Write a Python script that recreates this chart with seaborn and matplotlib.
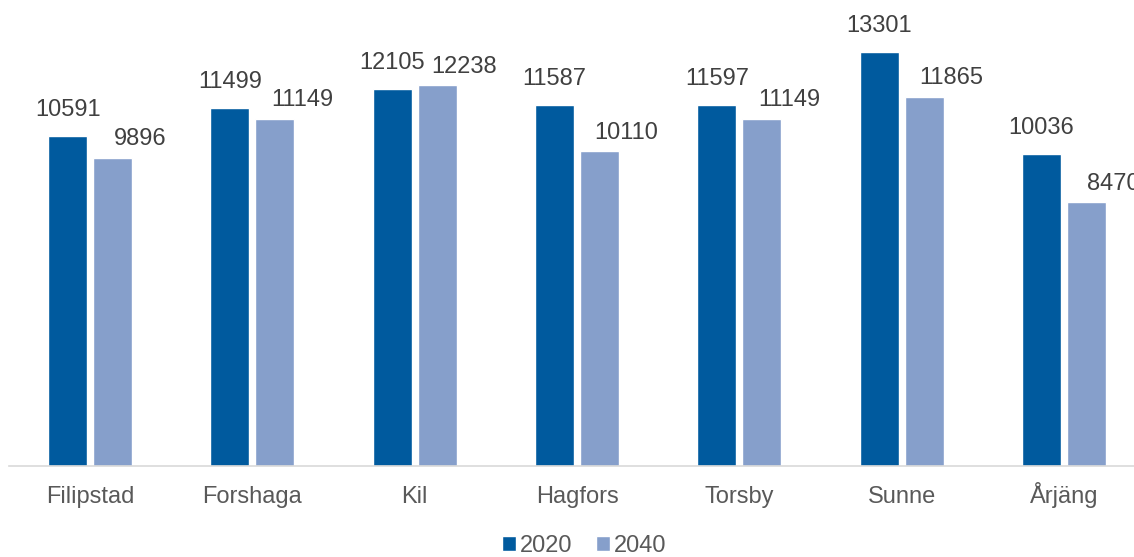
import pandas as pd
import seaborn as sns
import matplotlib.pyplot as plt

kommuner = ['Filipstad', 'Forshaga', 'Kil', 'Hagfors', 'Torsby', 'Sunne', 'Årjäng']
years = ['2020', '2040']
values_2020 = [10591, 11499, 12105, 11587, 11597, 13301, 10036]
values_2040 = [9896, 11149, 12238, 10110, 11149, 11865, 8470]
colors = ['#005A9E', '#869FCB']

df = pd.DataFrame({
    'kommun': kommuner * 2,
    'year': [years[0]] * len(kommuner) + [years[1]] * len(kommuner),
    'value': values_2020 + values_2040,
})

sns.set_style('white')
plt.rcParams['font.family'] = ['Liberation Sans', 'DejaVu Sans']

fig = plt.figure(figsize=(11.34, 5.57), dpi=100)
ax = fig.add_axes([9 / 1134, 1 - 466 / 557, 1136 / 1134, 466 / 557])

sns.barplot(data=df, x='kommun', y='value', hue='year', palette=colors,
            width=0.555, gap=0.133, saturation=1, ax=ax, legend=True)

ax.set_ylim(0, 466 * 13301 / 414)
ax.set_xlim(-0.5, len(kommuner) - 0.5)

# data labels: 2020 centred, 2040 nudged right (like the Excel original)
offsets = [(0, 14.4), (19.5, 9.0)]
for cont, (dx, dy) in zip(ax.containers, offsets):
    for bar in cont:
        x = bar.get_x() + bar.get_width() / 2
        h = bar.get_height()
        ax.annotate(f'{int(round(h))}', (x, h), xytext=(dx, dy),
                    textcoords='offset points', ha='center', va='baseline',
                    fontsize=17, color='#404040', annotation_clip=False)

ax.set_xlabel('')
ax.set_ylabel('')
ax.set_yticks([])
ax.tick_params(axis='x', length=0, pad=26.6, labelsize=17, labelcolor='#595959')
for lab in ax.get_xticklabels():
    lab.set_verticalalignment('baseline')
for side in ['top', 'right', 'left']:
    ax.spines[side].set_visible(False)
ax.spines['bottom'].set_color('#D9D9D9')
ax.spines['bottom'].set_linewidth(1.2)

handles, labels = ax.get_legend_handles_labels()
ax.legend_.remove()
fig.legend(handles, labels, loc='center', bbox_to_anchor=(0.515, 11 / 557),
           ncol=2, frameon=False, fontsize=17, labelcolor='#595959',
           handlelength=0.6, handleheight=0.6, handletextpad=0.15, columnspacing=1.0)

fig.savefig('out.png', dpi=100)
